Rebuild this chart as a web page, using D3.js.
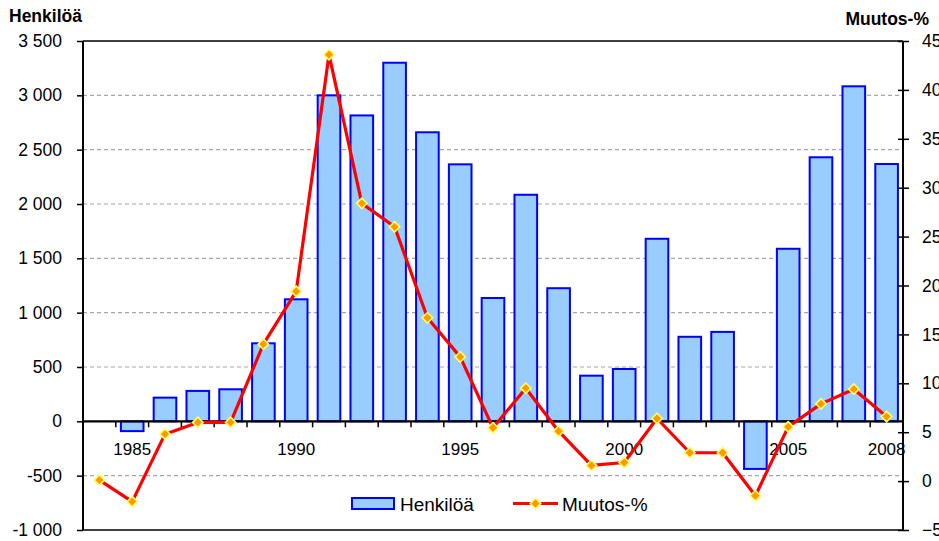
<!DOCTYPE html>
<html>
<head>
  <meta charset="utf-8">
  <script src="https://d3js.org/d3.v7.min.js"></script>
  <style>
    body { margin:0; background:#fff; }
    text { font-family: "Liberation Sans", Arial, sans-serif; fill:#000; }
    .axis path { display:none; }
  </style>
</head>
<body>
  <script>
    var years = [1984,1985,1986,1987,1988,1989,1990,1991,1992,1993,1994,1995,1996,
                 1997,1998,1999,2000,2001,2002,2003,2004,2005,2006,2007,2008];
    var henkiloa = [0,-90,218,280,295,718,1123,3000,2815,3300,2660,2365,1135,
                    2085,1225,420,482,1680,778,823,-438,1588,2430,3083,2368];
    var muutos = [0.1,-2.1,4.8,6.0,6.0,14.0,19.4,43.6,28.4,26.0,16.7,12.7,5.45,
                  9.5,5.1,1.6,1.9,6.4,2.9,2.9,-1.5,5.55,7.9,9.4,6.6];
    var xTickYears = [1985,1990,1995,2000,2005,2008];
    var leftTicks = [-1000,-500,0,500,1000,1500,2000,2500,3000,3500];
    var rightTicks = [-5,0,5,10,15,20,25,30,35,40,45];

    var W = 939, H = 541;
    var pL = 83, pR = 903, pT = 41, pB = 530;

    var svg = d3.select("body").append("svg")
        .attr("width", W).attr("height", H);

    var fi = d3.formatLocale({decimal: ",", thousands: " ", grouping: [3], currency: ["", " €"], minus: "-"});
    var fmt = fi.format(",d");

    var x = d3.scaleBand().domain(years).range([pL, pR])
        .paddingInner(0.31).paddingOuter(0.155);
    var yL = d3.scaleLinear().domain([-1000, 3500]).range([pB, pT]);
    var yR = d3.scaleLinear().domain([-5, 45]).range([pB, pT]);
    var step = x.step();

    // gridlines
    svg.append("g").selectAll("line")
        .data(leftTicks.filter(d => d != 0 && d != 3500 && d != -1000))
        .enter().append("line")
        .attr("x1", pL).attr("x2", pR)
        .attr("y1", d => yL(d)).attr("y2", d => yL(d))
        .attr("stroke", "#a6a6a6").attr("stroke-width", 1.2)
        .attr("stroke-dasharray", "4,3");

    // frame top / bottom
    svg.append("line").attr("x1", pL).attr("x2", pR)
        .attr("y1", pT).attr("y2", pT).attr("stroke", "#000").attr("stroke-width", 1.5);
    svg.append("line").attr("x1", pL).attr("x2", pR)
        .attr("y1", pB).attr("y2", pB).attr("stroke", "#000").attr("stroke-width", 1.5);

    // bars
    svg.append("g").selectAll("rect")
        .data(years)
        .enter().append("rect")
        .attr("x", (d) => x(d))
        .attr("width", x.bandwidth())
        .attr("y", (d, i) => yL(Math.max(0, henkiloa[i])))
        .attr("height", (d, i) => Math.abs(yL(henkiloa[i]) - yL(0)))
        .attr("fill", "#99ccff")
        .attr("stroke", "#0000ff")
        .attr("stroke-width", 2);

    // x axis at zero
    var y0 = yL(0);
    svg.append("line").attr("x1", pL).attr("x2", pR)
        .attr("y1", y0).attr("y2", y0).attr("stroke", "#000").attr("stroke-width", 2.2);
    svg.append("g").selectAll("line")
        .data(years.slice(1))
        .enter().append("line")
        .attr("x1", d => x(d) - step * 0.155).attr("x2", d => x(d) - step * 0.155)
        .attr("y1", y0).attr("y2", y0 + 6)
        .attr("stroke", "#000").attr("stroke-width", 1.5);
    svg.append("g")
        .attr("class", "axis")
        .attr("transform", "translate(0," + y0 + ")")
        .call(d3.axisBottom(x).tickValues(xTickYears).tickSize(0).tickPadding(22))
        .selectAll("text").style("font-size", "17px")
        .attr("font-family", "Liberation Sans, Arial, sans-serif");

    // left axis
    svg.append("line").attr("x1", pL).attr("x2", pL)
        .attr("y1", pT).attr("y2", pB).attr("stroke", "#000").attr("stroke-width", 2);
    svg.append("g")
        .attr("class", "axis")
        .attr("transform", "translate(" + pL + ",0)")
        .call(d3.axisLeft(yL).tickValues(leftTicks).tickSize(6).tickPadding(15).tickFormat(fmt))
        .call(g => g.selectAll("line").attr("stroke-width", 1.5))
        .selectAll("text").style("font-size", "17.5px")
        .attr("font-family", "Liberation Sans, Arial, sans-serif");

    // right axis
    svg.append("line").attr("x1", pR).attr("x2", pR)
        .attr("y1", pT).attr("y2", pB).attr("stroke", "#000").attr("stroke-width", 2);
    svg.append("g")
        .attr("class", "axis")
        .attr("transform", "translate(" + pR + ",0)")
        .call(d3.axisRight(yR).tickValues(rightTicks).tickSize(6).tickPadding(13))
        .call(g => g.selectAll("line").attr("x1", -5).attr("stroke-width", 1.5))
        .selectAll("text").style("font-size", "17.5px")
        .attr("font-family", "Liberation Sans, Arial, sans-serif");

    // line series
    var line = d3.line()
        .x((d, i) => x(years[i]) + x.bandwidth() / 2)
        .y(d => yR(d));
    svg.append("path")
        .datum(muutos)
        .attr("d", line)
        .attr("fill", "none")
        .attr("stroke", "#ff0000")
        .attr("stroke-width", 3.2)
        .attr("stroke-linejoin", "round");

    var diamond = d3.symbol().type(d3.symbolDiamond2).size(70);
    svg.append("g").selectAll("path")
        .data(muutos)
        .enter().append("path")
        .attr("d", diamond)
        .attr("transform", (d, i) => "translate(" + (x(years[i]) + x.bandwidth() / 2) + "," + yR(d) + ")")
        .attr("fill", "#ff9900")
        .attr("stroke", "#ffff66")
        .attr("stroke-width", 1.6);

    // axis titles
    svg.append("text").attr("x", 9).attr("y", 22)
        .style("font-size", "17.5px").style("font-weight", "bold").text("Henkilöä");
    svg.append("text").attr("x", 929).attr("y", 25).attr("text-anchor", "end")
        .style("font-size", "17.5px").style("font-weight", "bold").text("Muutos-%");

    // legend
    var lg = svg.append("g");
    lg.append("rect").attr("x", 352).attr("y", 498).attr("width", 42).attr("height", 11)
        .attr("fill", "#99ccff").attr("stroke", "#0000ff").attr("stroke-width", 2);
    lg.append("text").attr("x", 400).attr("y", 511).style("font-size", "19px").text("Henkilöä");
    lg.append("line").attr("x1", 513).attr("x2", 558).attr("y1", 503.5).attr("y2", 503.5)
        .attr("stroke", "#ff0000").attr("stroke-width", 3.2);
    lg.append("path").attr("d", diamond).attr("transform", "translate(535.5,503.5)")
        .attr("fill", "#ff9900").attr("stroke", "#ffff66").attr("stroke-width", 1.6);
    lg.append("text").attr("x", 562).attr("y", 511).style("font-size", "19px").text("Muutos-%");
  </script>
</body>
</html>
